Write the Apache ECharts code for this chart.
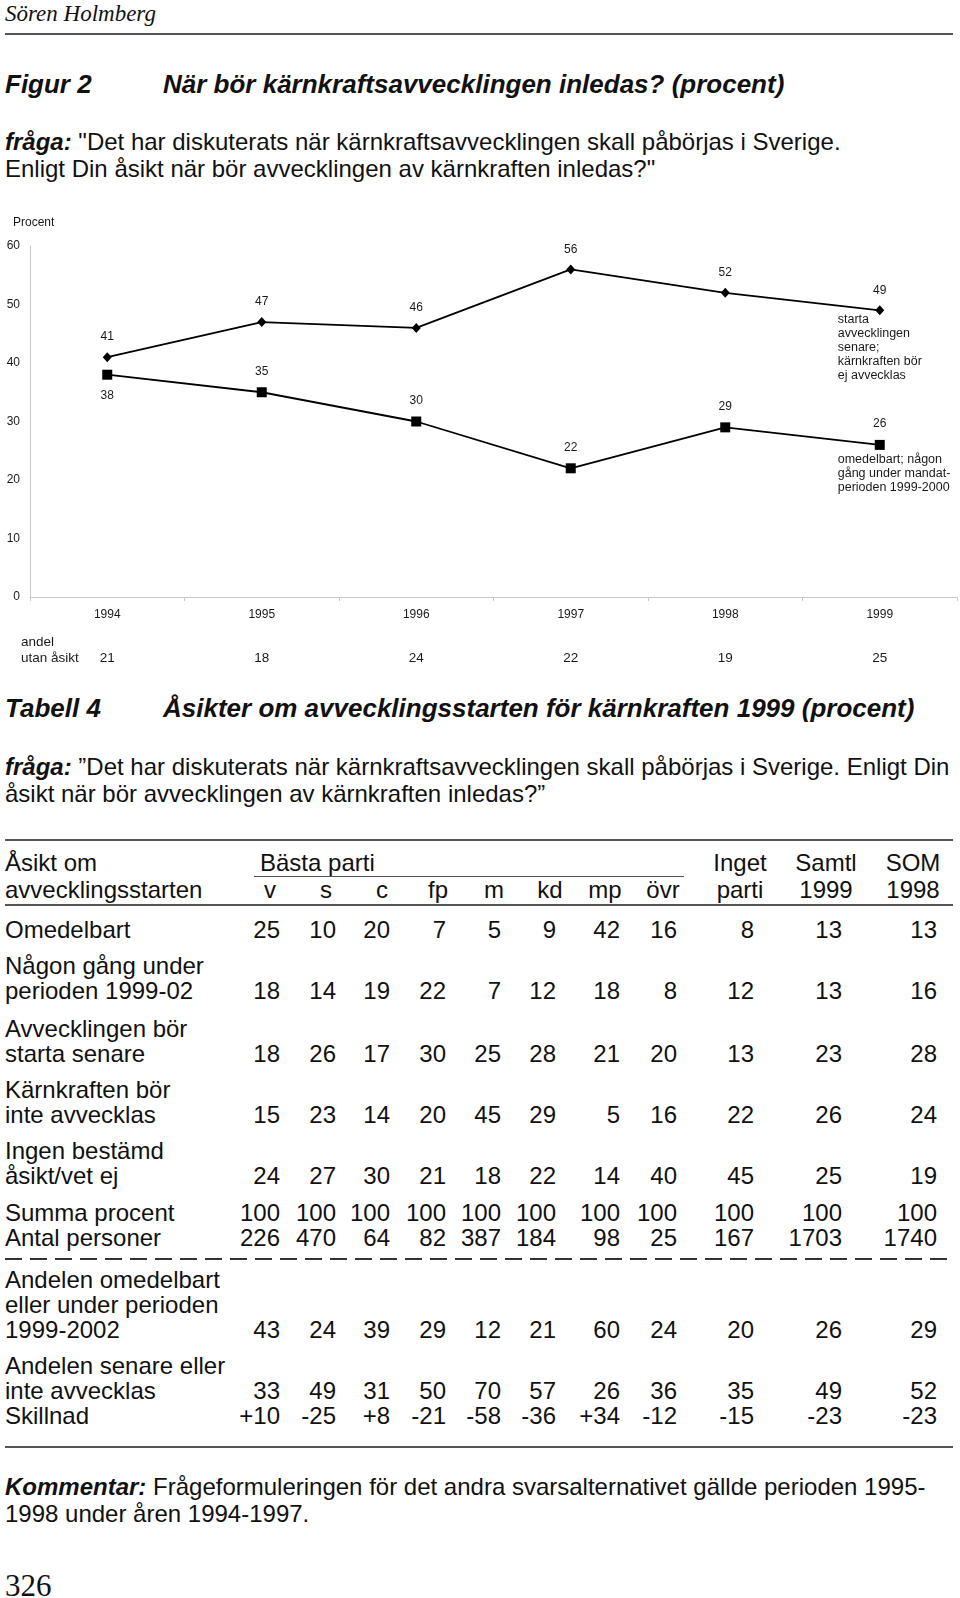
<!DOCTYPE html>
<html>
<head>
<meta charset="utf-8">
<script src="https://cdn.jsdelivr.net/npm/echarts@6/dist/echarts.min.js"></script>
<style>
  html, body { margin: 0; padding: 0; background: #fff; }
  #page { position: relative; width: 960px; height: 1598px; overflow: hidden; font-family: "Liberation Sans", Arial, sans-serif; color: #111; }
  .t { position: absolute; white-space: pre; }
  .serif { font-family: "Liberation Serif", "Times New Roman", serif; }
  .bi { font-weight: bold; font-style: italic; }
  .rule { position: absolute; left: 5px; width: 948px; background: #555; }
  #chart { position: absolute; left: 0; top: 200px; width: 960px; height: 480px; }
</style>
</head>
<body>
<div id="page">
  <div id="chart"></div>
</div>
<script>
// chart data (Figur 2)
const years = ['1994', '1995', '1996', '1997', '1998', '1999'];
const laterOrNever = [41, 47, 46, 56, 52, 49];
const immediately = [38, 35, 30, 22, 29, 26];
const noOpinion = [21, 18, 24, 22, 19, 25];

// table data (Tabell 4)
const partyCols = ['v', 's', 'c', 'fp', 'm', 'kd', 'mp', 'övr', 'parti', '1999', '1998'];
const rowOmedelbart = [25, 10, 20, 7, 5, 9, 42, 16, 8, 13, 13];
const rowUnderPerioden = [18, 14, 19, 22, 7, 12, 18, 8, 12, 13, 16];
const rowStartaSenare = [18, 26, 17, 30, 25, 28, 21, 20, 13, 23, 28];
const rowInteAvvecklas = [15, 23, 14, 20, 45, 29, 5, 16, 22, 26, 24];
const rowVetEj = [24, 27, 30, 21, 18, 22, 14, 40, 45, 25, 19];
const rowSumma = [100, 100, 100, 100, 100, 100, 100, 100, 100, 100, 100];
const rowAntal = [226, 470, 64, 82, 387, 184, 98, 25, 167, 1703, 1740];
const rowAndelTidigt = [43, 24, 39, 29, 12, 21, 60, 24, 20, 26, 29];
const rowAndelSent = [33, 49, 31, 50, 70, 57, 26, 36, 35, 49, 52];
const rowSkillnad = ['+10', '-25', '+8', '-21', '-58', '-36', '+34', '-12', '-15', '-23', '-23'];

const page = document.getElementById('page');

function put(html, x, yc, o) {
  o = o || {};
  const size = o.size || 22;
  const lh = o.lh || Math.round(size * 1.2);
  const d = document.createElement('div');
  d.className = 't' + (o.cls ? ' ' + o.cls : '');
  d.innerHTML = html;
  d.style.fontSize = size + 'px';
  d.style.lineHeight = lh + 'px';
  d.style.top = (yc - lh / 2) + 'px';
  if (o.align === 'right') {
    d.style.right = (960 - x) + 'px';
  } else if (o.align === 'center') {
    d.style.left = (x - 60) + 'px';
    d.style.width = '120px';
    d.style.textAlign = 'center';
  } else {
    d.style.left = x + 'px';
  }
  page.appendChild(d);
  return d;
}

function rule(y, h, o) {
  o = o || {};
  const d = document.createElement('div');
  d.className = 'rule';
  d.style.top = (y - h / 2) + 'px';
  d.style.height = h + 'px';
  if (o.left !== undefined) { d.style.left = o.left + 'px'; d.style.width = o.width + 'px'; }
  if (o.dashed) {
    d.style.background = 'repeating-linear-gradient(90deg, #333 0 17px, transparent 17px 25px)';
  }
  page.appendChild(d);
}

// page header
put('Sören Holmberg', 5, 14, { size: 23, cls: 'serif' }).style.fontStyle = 'italic';
rule(34, 2);
put('Figur 2', 5, 84, { size: 26, cls: 'bi' });
put('När bör kärnkraftsavvecklingen inledas? (procent)', 163, 84, { size: 26, cls: 'bi' });
put('<b><i>fråga:</i></b> "Det har diskuterats när kärnkraftsavvecklingen skall påbörjas i Sverige.', 5, 141, { size: 24 });
put('Enligt Din åsikt när bör avvecklingen av kärnkraften inledas?"', 5, 168, { size: 24 });

// table header
put('Tabell 4', 5, 708, { size: 26, cls: 'bi' });
put('Åsikter om avvecklingsstarten för kärnkraften 1999 (procent)', 163, 708, { size: 26, cls: 'bi' });
put('<b><i>fråga:</i></b> ”Det har diskuterats när kärnkraftsavvecklingen skall påbörjas i Sverige. Enligt Din', 5, 766, { size: 24 });
put('åsikt när bör avvecklingen av kärnkraften inledas?”', 5, 793, { size: 24 });

const colRight = [280, 336, 390, 446, 501, 556, 620, 677, 754, 842, 937];
const headCenter = [270, 326, 382, 438, 494, 550, 605, 663, 740, 826, 913];

rule(840, 2);
put('Åsikt om', 5, 862, { size: 24 });
put('avvecklingsstarten', 5, 889, { size: 24 });
put('Bästa parti', 260, 862, { size: 24 });
rule(876, 1, { left: 254, width: 430 });
put('Inget', 740, 862, { size: 24, align: 'center' });
put('Samtl', 826, 862, { size: 24, align: 'center' });
put('SOM', 913, 862, { size: 24, align: 'center' });
partyCols.forEach((c, i) => put(c, headCenter[i], 889, { size: 24, align: 'center' }));
rule(905, 1.5);

const tableRows = [
  { label: ['Omedelbart'], vals: rowOmedelbart, y: 929 },
  { label: ['Någon gång under', 'perioden 1999-02'], vals: rowUnderPerioden, y: 990 },
  { label: ['Avvecklingen bör', 'starta senare'], vals: rowStartaSenare, y: 1053 },
  { label: ['Kärnkraften bör', 'inte avvecklas'], vals: rowInteAvvecklas, y: 1114 },
  { label: ['Ingen bestämd', 'åsikt/vet ej'], vals: rowVetEj, y: 1175 },
  { label: ['Summa procent'], vals: rowSumma, y: 1212 },
  { label: ['Antal personer'], vals: rowAntal, y: 1237 },
  { label: ['Andelen omedelbart', 'eller under perioden', '1999-2002'], vals: rowAndelTidigt, y: 1329 },
  { label: ['Andelen senare eller', 'inte avvecklas'], vals: rowAndelSent, y: 1390 },
  { label: ['Skillnad'], vals: rowSkillnad, y: 1415 }
];
tableRows.forEach(r => {
  const n = r.label.length;
  r.label.forEach((l, k) => put(l, 5, r.y - (n - 1 - k) * 25, { size: 24 }));
  r.vals.forEach((v, i) => put(String(v), colRight[i], r.y, { size: 24, align: 'right' }));
});
rule(1259, 2, { dashed: true });
rule(1447, 2);

put('<b><i>Kommentar:</i></b> Frågeformuleringen för det andra svarsalternativet gällde perioden 1995-', 5, 1486, { size: 24 });
put('1998 under åren 1994-1997.', 5, 1513, { size: 24 });
put('326', 5, 1585, { size: 31, cls: 'serif' });

// Figur 2 chart
const chart = echarts.init(document.getElementById('chart'), null, { renderer: 'canvas' });
const axisGrey = '#c8c8c8';
const ink = '#1a1a1a';
const lblFont = { fontFamily: 'Liberation Sans', fontSize: 12, color: ink };

chart.setOption({
  animation: false,
  title: {
    text: 'Procent', left: 8, top: 12,
    textStyle: { fontSize: 12, fontWeight: 'normal', color: ink, fontFamily: 'Liberation Sans' }
  },
  grid: { left: 30, right: 3, top: 46, bottom: 83 },
  graphic: [{
    type: 'text', left: 21, top: 434,
    style: { text: 'andel\nutan åsikt', font: '13.5px "Liberation Sans"', lineHeight: 16, fill: ink }
  }],
  xAxis: [
    {
      type: 'category', data: years,
      axisLine: { lineStyle: { color: axisGrey, width: 1 } },
      axisTick: { show: true, length: 4, lineStyle: { color: axisGrey } },
      axisLabel: Object.assign({ margin: 12 }, lblFont)
    },
    {
      type: 'category', data: years, position: 'bottom', offset: 44,
      axisLine: { show: false }, axisTick: { show: false },
      axisLabel: {
        margin: 10, fontFamily: 'Liberation Sans', fontSize: 13.5, color: ink,
        formatter: (v, i) => String(noOpinion[i])
      }
    }
  ],
  yAxis: {
    type: 'value', min: 0, max: 60, interval: 10,
    axisLine: { show: true, lineStyle: { color: axisGrey } },
    axisTick: { show: false },
    splitLine: { show: false },
    axisLabel: Object.assign({ margin: 10 }, lblFont)
  },
  series: [
    {
      name: 'starta avvecklingen senare; kärnkraften bör ej avvecklas',
      type: 'line', data: laterOrNever,
      symbol: 'diamond', symbolSize: [9, 10],
      itemStyle: { color: '#000' },
      lineStyle: { color: '#000', width: 1.8 },
      label: Object.assign({ show: true, position: 'top', distance: 9 }, lblFont),
      markPoint: {
        symbol: 'circle', symbolSize: 0,
        data: [{
          coord: ['1999', 49],
          label: {
            show: true, position: [-42, 2], align: 'left', verticalAlign: 'top',
            formatter: 'starta\navvecklingen\nsenare;\nkärnkraften bör\nej avvecklas',
            fontFamily: 'Liberation Sans', fontSize: 12.5, lineHeight: 14, color: ink
          }
        }]
      }
    },
    {
      name: 'omedelbart; någon gång under mandatperioden 1999-2000',
      type: 'line',
      data: immediately.map((v, i) => i === 0
        ? { value: v, label: { position: 'bottom', distance: 10 } }
        : v),
      symbol: 'rect', symbolSize: 10,
      itemStyle: { color: '#000' },
      lineStyle: { color: '#000', width: 1.8 },
      label: Object.assign({ show: true, position: 'top', distance: 10 }, lblFont),
      markPoint: {
        symbol: 'circle', symbolSize: 0,
        data: [{
          coord: ['1999', 26],
          label: {
            show: true, position: [-42, 8], align: 'left', verticalAlign: 'top',
            formatter: 'omedelbart; någon\ngång under mandat-\nperioden 1999-2000',
            fontFamily: 'Liberation Sans', fontSize: 12.5, lineHeight: 14, color: ink
          }
        }]
      }
    }
  ]
});
</script>
</body>
</html>
